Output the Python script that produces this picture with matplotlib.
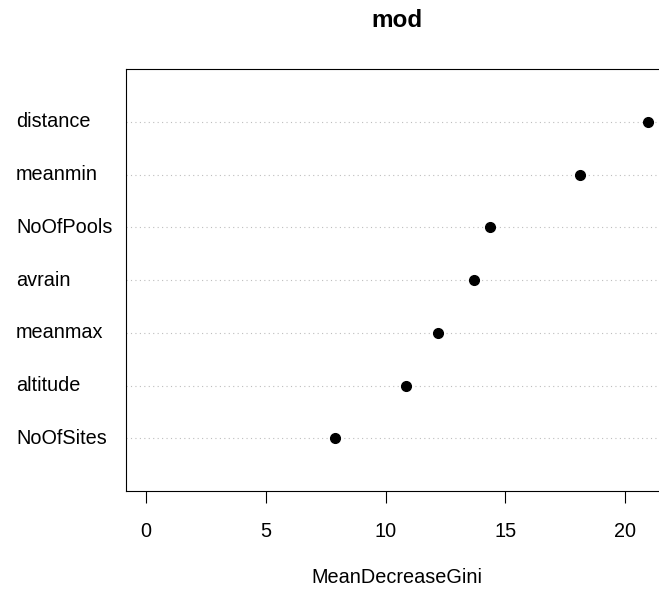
import matplotlib.pyplot as plt
from matplotlib import transforms

# Variable importance from the random forest (mean decrease in Gini)
variables = ['NoOfSites', 'altitude', 'meanmax', 'avrain', 'NoOfPools', 'meanmin', 'distance']
gini = [7.89, 10.85, 12.2, 13.69, 14.36, 18.11, 20.96]
xticks = [0, 5, 10, 15, 20]

plt.rcParams['font.family'] = ['Liberation Sans', 'DejaVu Sans']
FS = 14.3

fig = plt.figure(figsize=(6.59, 5.93), dpi=100)
ax = fig.add_axes([0.1912, 0.172, 0.8225, 0.7116])

rows = list(range(1, len(variables) + 1))
for r in rows:
    ax.axhline(r, color='#bebebe', linestyle=(0, (1, 3)), linewidth=0.8, zorder=1)
ax.plot(gini, rows, 'o', color='black', markersize=7, zorder=3)

# R-style 4% padding on the x range starting from zero
span = max(gini)
ax.set_xlim(-0.04 * span, span * 1.04)
ax.set_ylim(0, len(variables) + 1)

ax.set_xticks(xticks)
ax.set_xticklabels([str(t) for t in xticks], fontsize=FS)
ax.tick_params(axis='x', direction='out', length=8.6, width=0.8, pad=14)
ax.set_yticks([])
for s in ax.spines.values():
    s.set_linewidth(0.8)

# Variable names left-aligned near the figure edge
trans = transforms.blended_transform_factory(fig.transFigure, ax.transData)
for r, name in zip(rows, variables):
    ax.text(16 / 659, r, name, transform=trans, ha='left', va='center', fontsize=FS)

fig.text(0.6025, 1 - 583 / 593, 'MeanDecreaseGini', ha='center', va='baseline', fontsize=FS)
fig.text(0.6025, 1 - 27 / 593, 'mod', ha='center', va='baseline', fontsize=17.5, fontweight='bold')

plt.savefig('out.png', dpi=100)
